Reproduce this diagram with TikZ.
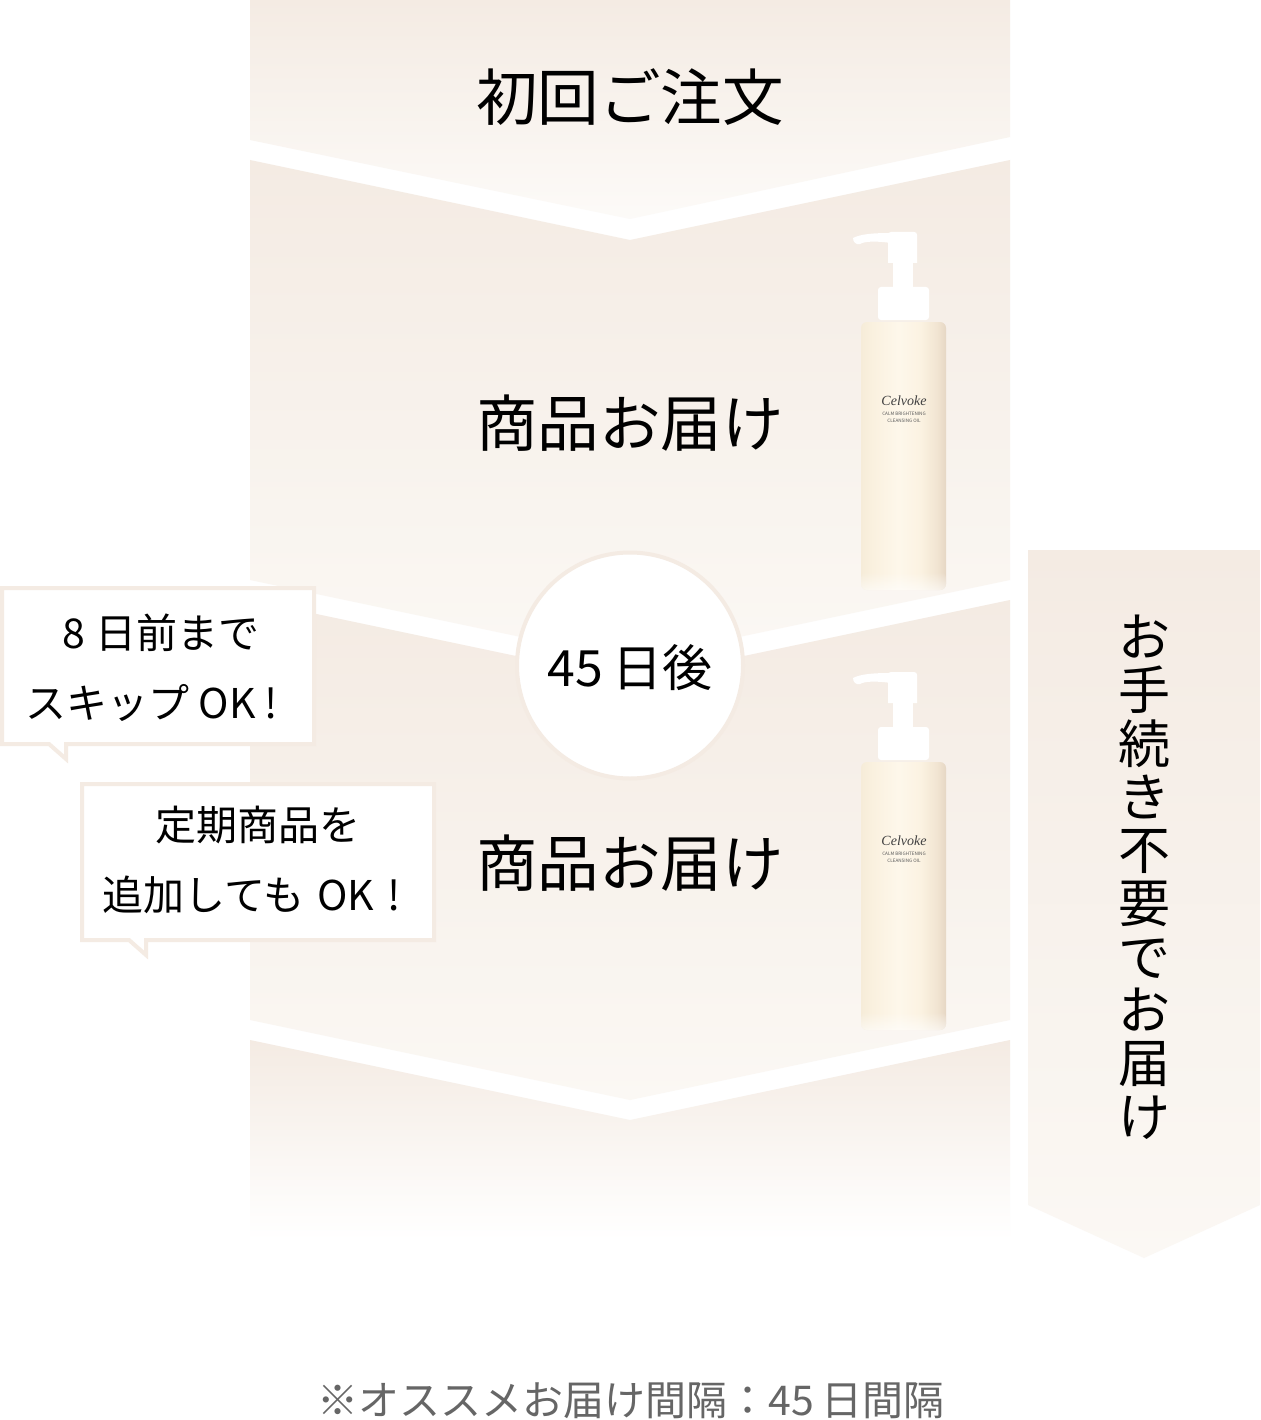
\documentclass[tikz,border=0pt]{standalone}
\usepackage{fontspec}
\setmainfont{Noto Sans CJK JP}
\newfontfamily\brandfont{Liberation Serif}
\usetikzlibrary{fadings}
\definecolor{beige}{HTML}{F4EBE3}
\definecolor{beigeend}{HTML}{FBF8F4}
\definecolor{greytext}{HTML}{666666}
\pgfdeclarehorizontalshading{bottlebody}{100bp}{
  rgb(0bp)=(0.965,0.925,0.85);
  rgb(25bp)=(0.965,0.925,0.85);
  rgb(32bp)=(0.98,0.945,0.875);
  rgb(47bp)=(0.995,0.97,0.92);
  rgb(60bp)=(0.985,0.95,0.885);
  rgb(70bp)=(0.945,0.895,0.82);
  rgb(75bp)=(0.90,0.84,0.77);
  rgb(100bp)=(0.90,0.84,0.77)}
\newcommand{\fsz}[2]{\fontsize{#1}{#2}\selectfont}
\tikzset{
  x=1pt,y=-1pt,
  band/.style={top color=beige,bottom color=beigeend,draw=none},
  lastband/.style={top color=beige,bottom color=white,draw=none},
  bubble/.style={draw=beige,line width=4pt,fill=white,miter limit=10},
  bigtext/.style={inner sep=0pt,text=black,font=\fsz{61.5}{61.5}},
  calltext/.style={inner sep=0pt,text=black,align=center,font=\fsz{41}{70}},
  bottle/.pic={
    \fill[white] (40,30) rectangle (60,58);
    \fill[white] (35,5) .. controls (35,3) and (36,2) .. (38,2) -- (61,2) .. controls (63,2) and (64,3) .. (64,5) -- (64,33) -- (35,33) -- cycle;
    \fill[white] (0,8) .. controls (8,4) and (20,3) .. (38,3) -- (38,13) .. controls (24,11) and (12,11) .. (7,14) .. controls (3,15) and (0,12) .. (0,8) -- cycle;
    \fill[white,rounded corners=3pt] (25,57) rectangle (76,90);
    \shade[shading=bottlebody,rounded corners=6pt] (8,92) rectangle (93,360);
    \fill[white,opacity=.6,path fading=north,rounded corners=6pt] (8,342) rectangle (93,360);
    \node[inner sep=0pt,text=black!75,font=\brandfont\fontsize{14}{14}\selectfont\itshape] (-brand) at (51,171) {Celvoke};
    \node[inner sep=0pt,text=black!65,align=center,font=\fontsize{4.6}{7}\selectfont] (-prod) at (51,187) {CALM BRIGHTENING\\CLEANSING OIL};
  }
}
\begin{document}
\begin{tikzpicture}
\useasboundingbox (0,0) rectangle (1260,1420);
\fill[white] (0,0) rectangle (1260,1420);
% bands
\shade[band,bottom color=white!35!beigeend] (250,0) -- (1010,0) -- (1010,137) -- (630,219) -- (250,140) -- cycle;
\shade[band] (250,160) -- (630,240) -- (1010,160) -- (1010,580) -- (630,660) -- (250,580) -- cycle;
\shade[band] (250,600) -- (630,680) -- (1010,600) -- (1010,1020) -- (630,1100) -- (250,1020) -- cycle;
\shade[lastband] (250,1040) -- (630,1120) -- (1010,1040) -- (1010,1240) -- (250,1240) -- cycle;
\shade[band] (1028,550) -- (1260,550) -- (1260,1205) -- (1144,1258) -- (1028,1205) -- cycle;
% interval circle
\node[circle,draw=beige,line width=4pt,fill=white,minimum size=226pt,inner sep=0pt] (interval) at (630,665.5) {};
\node[inner sep=0pt,font=\fsz{50}{50}] (intervaltext) at (630,668) {45\hspace{10pt}日後};
% bubbles
\draw[bubble] (2,588) -- (314,588) -- (314,744) -- (66,744) -- (66,759) -- (49,744) -- (2,744) -- cycle;
\draw[bubble] (82,784) -- (434,784) -- (434,940) -- (146,940) -- (146,955) -- (129,940) -- (82,940) -- cycle;
\node[calltext] (skip) at (158,668) {\hspace*{6pt}8\hspace{10pt}日前まで\\スキップ\hspace{9pt}OK\hspace{9pt}!\hspace*{12pt}};
\node[calltext] (add) at (258,860) {定期商品を\\追加しても\hspace{13pt}OK\hspace{13pt}!\hspace*{13pt}};
% bottles
\pic (b1) at (853,230) {bottle};
\pic (b2) at (853,670) {bottle};
% texts
\node[bigtext] (order) at (630,97) {初回ご注文};
\node[bigtext] (deliv1) at (630,423) {商品お届け};
\node[bigtext] (deliv2) at (630,863) {商品お届け};
\node[inner sep=0pt,align=center,font=\fsz{52}{53.3}] (side) at (1144,877) {お\\手\\続\\き\\不\\要\\で\\お\\届\\け};
\node[inner sep=0pt,text=greytext,font=\fsz{41}{41}] (note) at (631,1401) {※オススメお届け間隔：45\hspace{8pt}日間隔};
\end{tikzpicture}
\end{document}
